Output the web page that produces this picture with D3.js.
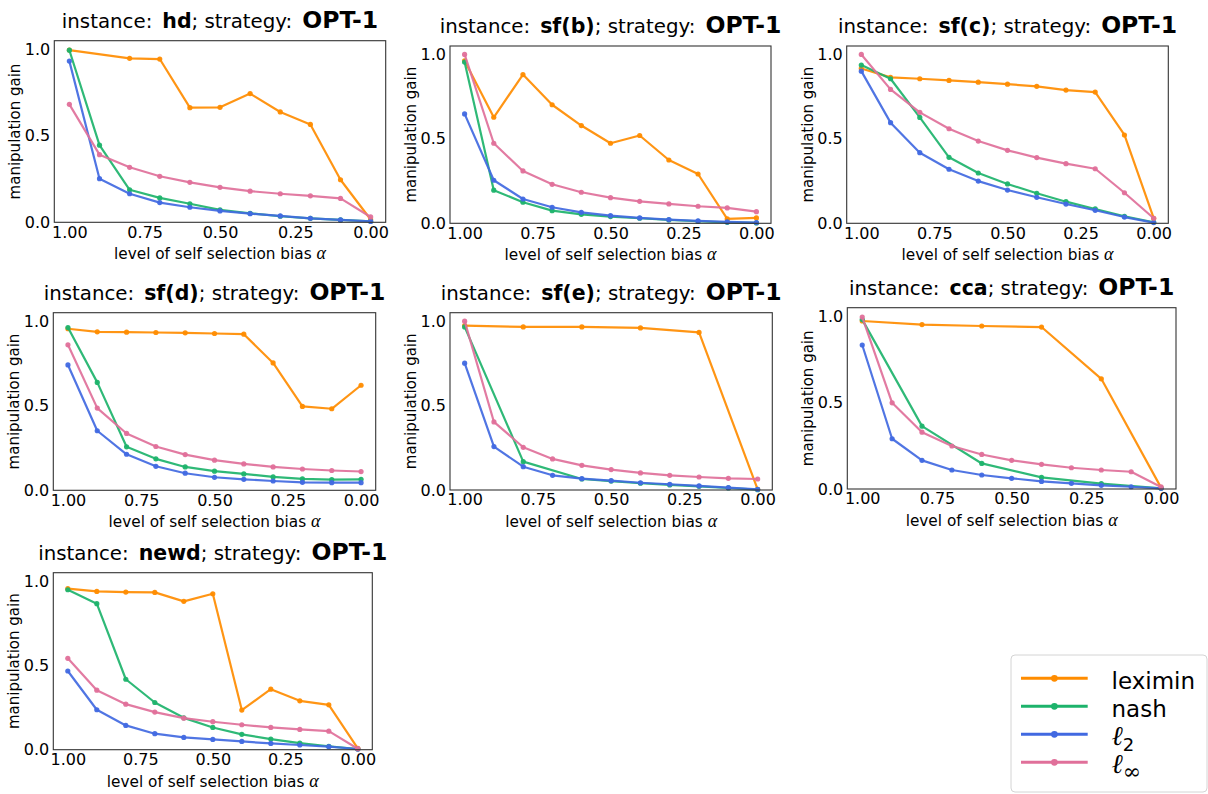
<!DOCTYPE html>
<html><head><meta charset="utf-8">
<script src="https://cdn.jsdelivr.net/npm/d3@7"></script>
<style>
body{margin:0;background:#fff}
svg text{font-family:"DejaVu Sans",sans-serif;fill:#000}
</style></head>
<body><svg id="c" width="1208" height="794"></svg>
<script>
// ---- data ----
const alphas = [1.0, 0.9, 0.8, 0.7, 0.6, 0.5, 0.4, 0.3, 0.2, 0.1, 0.0];
const xTicks = [1.0, 0.75, 0.5, 0.25, 0.0];
const yTicks = [0.0, 0.5, 1.0];
const seriesNames = ["leximin", "nash", "l2", "linf"];
const instances = ["hd", "sf(b)", "sf(c)", "sf(d)", "sf(e)", "cca", "newd"];

const hdLeximin = [0.996, null, 0.948, 0.944, 0.663, 0.665, 0.744, 0.638, 0.566, 0.246, 0.016];
const hdNash    = [0.995, 0.446, 0.188, 0.141, 0.107, 0.072, 0.052, 0.035, 0.023, 0.014, 0.006];
const hdL2      = [0.932, 0.252, 0.165, 0.114, 0.087, 0.066, 0.050, 0.037, 0.023, 0.014, 0.005];
const hdLinf    = [0.682, 0.391, 0.318, 0.266, 0.231, 0.202, 0.180, 0.165, 0.153, 0.138, 0.031];

const sfbLeximin = [0.962, 0.628, 0.881, 0.702, 0.579, 0.474, 0.520, 0.375, 0.292, 0.026, 0.032];
const sfbNash    = [0.955, 0.196, 0.125, 0.075, 0.053, 0.040, 0.030, 0.020, 0.012, 0.006, 0.002];
const sfbL2      = [0.648, 0.255, 0.144, 0.095, 0.065, 0.045, 0.032, 0.022, 0.014, 0.008, 0.004];
const sfbLinf    = [1.000, 0.474, 0.310, 0.231, 0.184, 0.152, 0.130, 0.115, 0.101, 0.091, 0.069];

const sfcLeximin = [0.917, 0.864, 0.856, 0.846, 0.836, 0.824, 0.811, 0.789, 0.777, 0.523, 0.030];
const sfcNash    = [0.937, 0.856, 0.627, 0.391, 0.298, 0.233, 0.178, 0.128, 0.085, 0.041, 0.006];
const sfcL2      = [0.901, 0.596, 0.418, 0.320, 0.250, 0.197, 0.154, 0.114, 0.077, 0.037, 0.004];
const sfcLinf    = [1.000, 0.793, 0.657, 0.560, 0.487, 0.432, 0.389, 0.353, 0.323, 0.181, 0.030];

const sfdLeximin = [0.955, 0.937, 0.935, 0.933, 0.931, 0.927, 0.923, 0.753, 0.496, 0.482, 0.621];
const sfdNash    = [0.962, 0.638, 0.257, 0.186, 0.138, 0.113, 0.097, 0.079, 0.067, 0.063, 0.065];
const sfdL2      = [0.741, 0.352, 0.213, 0.142, 0.101, 0.077, 0.065, 0.055, 0.047, 0.045, 0.045];
const sfdLinf    = [0.860, 0.486, 0.336, 0.259, 0.211, 0.178, 0.156, 0.138, 0.126, 0.117, 0.111];

const sfeLeximin = [0.974, null, 0.966, null, 0.966, null, 0.960, null, 0.933, null, 0.004];
const sfeNash    = [0.966, null, 0.168, null, 0.065, 0.053, 0.040, 0.030, 0.022, 0.012, 0.002];
const sfeL2      = [0.751, 0.257, 0.138, 0.087, 0.067, 0.055, 0.043, 0.034, 0.024, 0.014, 0.004];
const sfeLinf    = [1.000, 0.403, 0.253, 0.184, 0.146, 0.121, 0.101, 0.087, 0.077, 0.069, 0.065];

const ccaLeximin = [0.973, null, 0.952, null, 0.944, null, 0.938, null, 0.638, null, 0.008];
const ccaNash    = [0.981, null, 0.364, null, 0.148, null, 0.067, null, 0.031, null, 0.004];
const ccaL2      = [0.834, 0.291, 0.166, 0.110, 0.081, 0.062, 0.044, 0.033, 0.021, 0.013, 0.004];
const ccaLinf    = [0.996, 0.499, 0.329, 0.249, 0.200, 0.166, 0.143, 0.123, 0.110, 0.100, 0.012];

const newdLeximin = [0.955, 0.939, 0.935, 0.933, 0.880, 0.925, 0.235, 0.359, 0.290, 0.266, 0.008];
const newdNash    = [0.949, 0.866, 0.418, 0.280, 0.189, 0.132, 0.091, 0.063, 0.039, 0.020, 0.004];
const newdL2      = [0.467, 0.237, 0.144, 0.095, 0.073, 0.061, 0.049, 0.037, 0.028, 0.018, 0.004];
const newdLinf    = [0.542, 0.353, 0.270, 0.223, 0.187, 0.166, 0.148, 0.132, 0.120, 0.110, 0.006];

const panelData = [
  [hdLeximin, hdNash, hdL2, hdLinf],
  [sfbLeximin, sfbNash, sfbL2, sfbLinf],
  [sfcLeximin, sfcNash, sfcL2, sfcLinf],
  [sfdLeximin, sfdNash, sfdL2, sfdLinf],
  [sfeLeximin, sfeNash, sfeL2, sfeLinf],
  [ccaLeximin, ccaNash, ccaL2, ccaLinf],
  [newdLeximin, newdNash, newdL2, newdLinf]
];

// ---- styling / layout ----
const colors = ["#ff8c00", "#1db36b", "#4169e1", "#e0709a"];
const layout = [
  {l: 54.3, t: 40.7, r: 385.7, b: 222.3},
  {l: 450,  t: 46,   r: 771,   b: 223.3},
  {l: 846.7,t: 46,   r: 1168.3,b: 223.3},
  {l: 53.3, t: 312.7,r: 375.7, b: 490.3},
  {l: 450,  t: 312.7,r: 772.3, b: 490},
  {l: 847.3,t: 307.7,r: 1176,  b: 489},
  {l: 53.3, t: 572.7,r: 372.3, b: 749.7}
];

const svg = d3.select("#c");

instances.forEach((name, i) => {
  const L = layout[i];
  const w = L.r - L.l, h = L.b - L.t;
  const x = d3.scaleLinear().domain([1.05, -0.05]).range([0, w]);
  const y = d3.scaleLinear().domain([0, 1.05]).range([h, 0]);
  const g = svg.append("g").attr("transform", `translate(${L.l},${L.t})`);

  // axes
  const xa = g.append("g").attr("transform", `translate(0,${h})`)
    .call(d3.axisBottom(x).tickValues(xTicks).tickFormat(d3.format(".2f")).tickSize(0).tickPadding(4));
  const ya = g.append("g")
    .call(d3.axisLeft(y).tickValues(yTicks).tickFormat(d3.format(".1f")).tickSize(0).tickPadding(4));
  [xa, ya].forEach(a => {
    a.select(".domain").remove();
    a.selectAll("text").style("font-size", "16px").style("font-family", '"DejaVu Sans",sans-serif').attr("fill", "#000");
  });

  // lines
  const line = d3.line().x(d => x(d.a)).y(d => y(d.v));
  panelData[i].forEach((vals, s) => {
    const pts = alphas.map((a, k) => ({a, v: vals[k]})).filter(d => d.v != null);
    g.append("path").datum(pts).attr("d", line)
      .attr("fill", "none").attr("stroke", colors[s]).attr("stroke-width", 2.2)
      .attr("stroke-opacity", 0.92).attr("stroke-linejoin", "round");
    g.selectAll(null).data(pts).enter().append("circle")
      .attr("cx", d => x(d.a)).attr("cy", d => y(d.v)).attr("r", 2.6)
      .attr("fill", colors[s]).attr("fill-opacity", 0.95);
  });

  // frame
  g.append("rect").attr("width", w).attr("height", h)
    .attr("fill", "none").attr("stroke", "#333").attr("stroke-width", 1.1);

  // title
  const t = g.append("text").attr("x", w / 2).attr("y", -13).attr("text-anchor", "middle")
    .style("font-size", "19.8px");
  t.append("tspan").text("instance:");
  t.append("tspan").attr("dx", 10).attr("font-weight", "bold").style("font-size", "20.5px").text(name);
  t.append("tspan").text("; strategy:");
  t.append("tspan").attr("dx", 10).attr("font-weight", "bold").style("font-size", "23.5px").text("OPT-1");

  // axis labels
  const xl = g.append("text").attr("x", w / 2).attr("y", h + 37).attr("text-anchor", "middle")
    .style("font-size", "15.3px");
  xl.append("tspan").text("level of self selection bias ");
  xl.append("tspan").style("font-family", '"Liberation Serif",serif').style("font-style", "italic")
    .style("font-size", "18px").text("α");
  g.append("text").attr("transform", `translate(${-39},${h / 2}) rotate(-90)`)
    .attr("text-anchor", "middle").attr("dominant-baseline", "central")
    .style("font-size", "15px").text("manipulation gain");
});

// ---- legend ----
const lg = svg.append("g");
lg.append("rect").attr("x", 1011).attr("y", 655).attr("width", 196).attr("height", 137)
  .attr("rx", 4).attr("fill", "#fff").attr("stroke", "#d4d4d4").attr("stroke-width", 1);
const legY = d3.scalePoint().domain(seriesNames).range([678.3, 762.3]);
seriesNames.forEach((s, k) => {
  const yy = legY(s);
  lg.append("line").attr("x1", 1021).attr("x2", 1087.7).attr("y1", yy).attr("y2", yy)
    .attr("stroke", colors[k]).attr("stroke-width", 3);
  lg.append("circle").attr("cx", 1054.4).attr("cy", yy).attr("r", 3.4).attr("fill", colors[k]);
  const tx = lg.append("text").attr("x", 1111.5).attr("y", yy + 10.5).style("font-size", "23px");
  if (s === "leximin" || s === "nash") {
    tx.text(s);
  } else {
    tx.append("tspan").style("font-family", '"DejaVu Serif",serif').style("font-style", "italic")
      .style("font-size", "27px").text("ℓ");
    tx.append("tspan").attr("dy", 6).style("font-size", s === "l2" ? "18px" : "22px")
      .style("font-family", s === "l2" ? '"DejaVu Sans",sans-serif' : '"DejaVu Serif",serif')
      .text(s === "l2" ? "2" : "∞");
  }
});
</script></body></html>
